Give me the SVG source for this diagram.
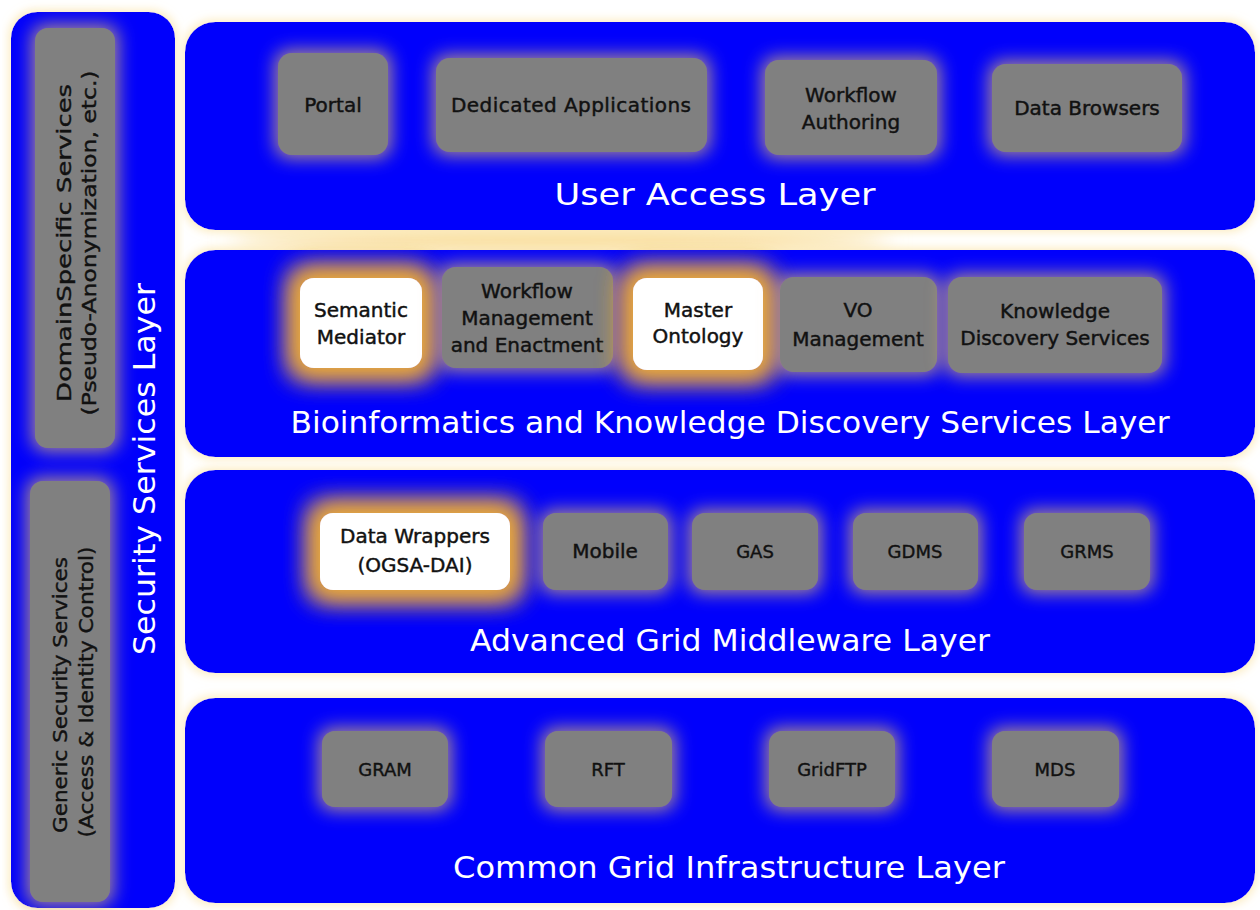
<svg xmlns="http://www.w3.org/2000/svg" width="1260" height="910" viewBox="0 0 1260 910">
  <defs>
    <style>
      .panel { fill: #0000fc; }
      .box { fill: #808080; }
      .hi { fill: #ffffff; }
      .nt { font-family: "Comic Sans MS", "DejaVu Sans", sans-serif; font-size: 20px; fill: #111111; stroke: #111111; stroke-width: 0.45px; text-anchor: middle; }
      .nts { font-family: "Comic Sans MS", "DejaVu Sans", sans-serif; font-size: 18px; fill: #111111; stroke: #111111; stroke-width: 0.4px; text-anchor: middle; }
      .rt { font-family: "Comic Sans MS", "DejaVu Sans", sans-serif; font-size: 20px; fill: #111111; stroke: #111111; stroke-width: 0.4px; text-anchor: middle; }
      .lt { font-family: "Comic Sans MS", "DejaVu Sans", sans-serif; font-size: 31px; fill: #ffffff; text-anchor: middle; }
    </style>
    <!-- soft warm halo around panels -->
    <filter id="panelGlow" x="-5%" y="-10%" width="110%" height="120%">
      <feMorphology in="SourceAlpha" operator="dilate" radius="2" result="d"/>
      <feGaussianBlur in="d" stdDeviation="5" result="b"/>
      <feFlood flood-color="#fbe9b8" flood-opacity="0.9"/>
      <feComposite in2="b" operator="in" result="g"/>
      <feMerge><feMergeNode in="g"/><feMergeNode in="SourceGraphic"/></feMerge>
    </filter>
    <!-- halo around grey service boxes -->
    <filter id="boxGlow" x="-40%" y="-50%" width="180%" height="200%">
      <feMorphology in="SourceAlpha" operator="dilate" radius="3" result="d"/>
      <feGaussianBlur in="d" stdDeviation="9" result="b"/>
      <feFlood flood-color="#d9b070" flood-opacity="0.8"/>
      <feComposite in2="b" operator="in" result="g"/>
      <feMerge><feMergeNode in="g"/><feMergeNode in="SourceGraphic"/></feMerge>
    </filter>
    <!-- stronger golden halo around highlighted boxes -->
    <filter id="hiGlow" x="-70%" y="-80%" width="240%" height="260%">
      <feMorphology in="SourceAlpha" operator="dilate" radius="9" result="d"/>
      <feGaussianBlur in="d" stdDeviation="13" result="b"/>
      <feFlood flood-color="#eaa83a" flood-opacity="1"/>
      <feComposite in2="b" operator="in" result="g"/>
      <feMerge><feMergeNode in="g"/><feMergeNode in="g"/><feMergeNode in="SourceGraphic"/></feMerge>
    </filter>
    <filter id="haze" x="-30%" y="-100%" width="160%" height="300%">
      <feGaussianBlur stdDeviation="12"/>
    </filter>
  </defs>

  <rect x="0" y="0" width="1260" height="910" fill="#ffffff"/>
  <!-- warm light spilling into the gap above the bioinformatics panel -->
  <ellipse cx="560" cy="240" rx="330" ry="14" fill="#f8d98e" filter="url(#haze)"/>

  <!-- layer panels -->
  <g id="security-layer">
    <rect class="panel" x="11" y="12" width="164" height="896" rx="26" filter="url(#panelGlow)"/>
    <text class="lt" transform="translate(155,469) rotate(-90)" textLength="372" lengthAdjust="spacingAndGlyphs">Security Services Layer</text>
  </g>
  <g id="user-access-layer">
    <rect class="panel" x="185" y="22" width="1070" height="208" rx="30" filter="url(#panelGlow)"/>
    <text class="lt" x="715" y="205" textLength="321" lengthAdjust="spacingAndGlyphs">User Access Layer</text>
  </g>
  <g id="bioinformatics-layer">
    <rect class="panel" x="185" y="250" width="1070" height="207" rx="30" filter="url(#panelGlow)"/>
    <text class="lt" x="730" y="433" textLength="879" lengthAdjust="spacingAndGlyphs">Bioinformatics and Knowledge Discovery Services Layer</text>
  </g>
  <g id="middleware-layer">
    <rect class="panel" x="185" y="470" width="1070" height="203" rx="30" filter="url(#panelGlow)"/>
    <text class="lt" x="730" y="651" textLength="520" lengthAdjust="spacingAndGlyphs">Advanced Grid Middleware Layer</text>
  </g>
  <g id="infrastructure-layer">
    <rect class="panel" x="185" y="698" width="1070" height="205" rx="30" filter="url(#panelGlow)"/>
    <text class="lt" x="729" y="878" textLength="552" lengthAdjust="spacingAndGlyphs">Common Grid Infrastructure Layer</text>
  </g>

  <!-- security services column -->
  <g id="domain-specific-services">
    <rect class="box" x="35" y="28" width="80" height="420" rx="13" filter="url(#boxGlow)"/>
    <text class="rt" transform="translate(71,243) rotate(-90)" textLength="318" lengthAdjust="spacingAndGlyphs">DomainSpecific Services</text>
    <text class="rt" transform="translate(96,243) rotate(-90)" textLength="345" lengthAdjust="spacingAndGlyphs">(Pseudo-Anonymization, etc.)</text>
  </g>
  <g id="generic-security-services">
    <rect class="box" x="30" y="481" width="80" height="421" rx="13" filter="url(#boxGlow)"/>
    <text class="rt" transform="translate(67,695) rotate(-90)" textLength="276" lengthAdjust="spacingAndGlyphs">Generic Security Services</text>
    <text class="rt" transform="translate(93,692) rotate(-90)" textLength="291" lengthAdjust="spacingAndGlyphs">(Access &amp; Identity Control)</text>
  </g>

  <!-- user access layer -->
  <g id="portal">
    <rect class="box" x="278" y="53" width="110" height="102" rx="14" filter="url(#boxGlow)"/>
    <text class="nt" x="333" y="112">Portal</text>
  </g>
  <g id="dedicated-applications">
    <rect class="box" x="436" y="58" width="271" height="94" rx="14" filter="url(#boxGlow)"/>
    <text class="nt" x="571" y="112" textLength="240">Dedicated Applications</text>
  </g>
  <g id="workflow-authoring">
    <rect class="box" x="765" y="60" width="172" height="95" rx="14" filter="url(#boxGlow)"/>
    <text class="nt" x="851" y="102">Workflow</text>
    <text class="nt" x="851" y="129">Authoring</text>
  </g>
  <g id="data-browsers">
    <rect class="box" x="992" y="64" width="190" height="88" rx="14" filter="url(#boxGlow)"/>
    <text class="nt" x="1087" y="115">Data Browsers</text>
  </g>

  <!-- bioinformatics and knowledge discovery layer -->
  <g id="semantic-mediator">
    <rect class="hi" x="300" y="278" width="122" height="90" rx="14" filter="url(#hiGlow)"/>
    <text class="nt" x="361" y="317">Semantic</text>
    <text class="nt" x="361" y="344">Mediator</text>
  </g>
  <g id="workflow-management">
    <rect class="box" x="442" y="267" width="171" height="101" rx="14" filter="url(#boxGlow)"/>
    <text class="nt" x="527" y="298">Workflow</text>
    <text class="nt" x="527" y="325">Management</text>
    <text class="nt" x="527" y="352">and Enactment</text>
  </g>
  <g id="master-ontology">
    <rect class="hi" x="633" y="278" width="130" height="92" rx="14" filter="url(#hiGlow)"/>
    <text class="nt" x="698" y="317">Master</text>
    <text class="nt" x="698" y="343">Ontology</text>
  </g>
  <g id="vo-management">
    <rect class="box" x="780" y="277" width="157" height="95" rx="14" filter="url(#boxGlow)"/>
    <text class="nt" x="858" y="317">VO</text>
    <text class="nt" x="858" y="346">Management</text>
  </g>
  <g id="knowledge-discovery">
    <rect class="box" x="948" y="277" width="214" height="96" rx="14" filter="url(#boxGlow)"/>
    <text class="nt" x="1055" y="318">Knowledge</text>
    <text class="nt" x="1055" y="345">Discovery Services</text>
  </g>

  <!-- advanced grid middleware layer -->
  <g id="data-wrappers">
    <rect class="hi" x="320" y="513" width="190" height="77" rx="13" filter="url(#hiGlow)"/>
    <text class="nt" x="415" y="543">Data Wrappers</text>
    <text class="nt" x="415" y="572">(OGSA-DAI)</text>
  </g>
  <g id="mobile">
    <rect class="box" x="543" y="513" width="125" height="77" rx="13" filter="url(#boxGlow)"/>
    <text class="nt" x="605" y="558">Mobile</text>
  </g>
  <g id="gas">
    <rect class="box" x="692" y="513" width="126" height="77" rx="13" filter="url(#boxGlow)"/>
    <text class="nts" x="755" y="558">GAS</text>
  </g>
  <g id="gdms">
    <rect class="box" x="853" y="513" width="125" height="77" rx="13" filter="url(#boxGlow)"/>
    <text class="nts" x="915" y="558">GDMS</text>
  </g>
  <g id="grms">
    <rect class="box" x="1024" y="513" width="126" height="77" rx="13" filter="url(#boxGlow)"/>
    <text class="nts" x="1087" y="558">GRMS</text>
  </g>

  <!-- common grid infrastructure layer -->
  <g id="gram">
    <rect class="box" x="322" y="731" width="126" height="76" rx="13" filter="url(#boxGlow)"/>
    <text class="nts" x="385" y="776">GRAM</text>
  </g>
  <g id="rft">
    <rect class="box" x="545" y="731" width="127" height="76" rx="13" filter="url(#boxGlow)"/>
    <text class="nts" x="608" y="776">RFT</text>
  </g>
  <g id="gridftp">
    <rect class="box" x="769" y="731" width="126" height="76" rx="13" filter="url(#boxGlow)"/>
    <text class="nts" x="832" y="776">GridFTP</text>
  </g>
  <g id="mds">
    <rect class="box" x="992" y="731" width="127" height="76" rx="13" filter="url(#boxGlow)"/>
    <text class="nts" x="1055" y="776">MDS</text>
  </g>

  <g id="connectors"/>
</svg>
